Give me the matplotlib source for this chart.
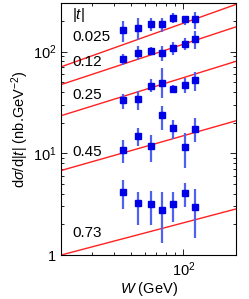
import numpy as np
import matplotlib
matplotlib.use('Agg')
import matplotlib.pyplot as plt
from matplotlib.ticker import LogLocator, NullFormatter

plt.rcParams['font.family'] = ['Liberation Sans', 'DejaVu Sans']
plt.rcParams['mathtext.fontset'] = 'custom'
plt.rcParams['mathtext.rm'] = 'Liberation Sans'
plt.rcParams['mathtext.it'] = 'Liberation Sans:italic'
plt.rcParams['mathtext.sf'] = 'Liberation Sans'

# |t| bins and W values (GeV)
t_labels = ['0.025', '0.12', '0.25', '0.45', '0.73']
W = [45.2, 55.3, 65.4, 75.3, 87.7, 102.7, 116.6]

# dsigma/d|t| values, with lower / upper ends of the error bars
xs_025 = [162, 168.5, 187.5, 187.5, 216, 210, 211]
lo_025 = [123.5, 131.3, 158.5, 156, 191.8, 183, 164.7]
hi_025 = [198.9, 214.8, 214.8, 214.8, 236.8, 226, 243.9]

xs_012 = [85.3, 97.1, 102.3, 97.1, 108.7, 119.9, 133.5]
lo_012 = [74.5, 83.4, 93.4, 80.2, 93.4, 104.7, 106.3]
hi_012 = [95.5, 112.8, 111.2, 112.8, 123.5, 134.4, 158.5]

xs_025b = [33.1, 34.4, 46.2, 49.2, 42.9, 46.5, 52.2]
lo_025b = [27.3, 26.8, 39.7, 35.0, 39.2, 39.2, 40.6]
hi_025b = [38.3, 40.6, 53.8, 68.5, 47.3, 55.1, 62.5]

xs_045 = [10.8, 14.9, 11.9, 23.9, 17.7, 11.5, 17.3]
lo_045 = [8.1, 11.9, 8.3, 17.1, 13.8, 7.1, 12.8]
hi_045 = [13.6, 17.7, 15.2, 29.4, 21.4, 15.8, 22.2]

xs_073 = [4.15, 3.27, 3.18, 2.77, 3.18, 4.05, 2.95]
lo_073 = [2.84, 1.98, 1.98, 1.32, 2.13, 2.95, 1.46]
hi_073 = [5.48, 4.2, 4.3, 4.2, 4.2, 5.16, 4.44]

# power-law fits: value at W = 20 GeV and exponent
fit_norm20 = [70.7, 47.3, 23.4, 6.77, 1.0]
fit_slope = [0.614, 0.568, 0.535, 0.489, 0.453]

# label heights (data units) for the |t| values
label_y = [140, 79.7, 37.7, 10.3, 1.65]

series = [(xs_025, lo_025, hi_025), (xs_012, lo_012, hi_012),
          (xs_025b, lo_025b, hi_025b), (xs_045, lo_045, hi_045),
          (xs_073, lo_073, hi_073)]

fig = plt.figure(figsize=(2.49, 2.99), dpi=100)
ax = fig.add_axes([0.245, 0.147, 0.703, 0.843])

Wfit = np.logspace(np.log10(20), np.log10(200), 100)
for i, (y, lo, hi) in enumerate(series):
    y = np.array(y)
    yerr = [y - np.array(lo), np.array(hi) - y]
    ax.errorbar(W, y, yerr=yerr, fmt='s', color='#0000e6', ecolor='#5060f0',
                elinewidth=1.6, capsize=0, markersize=4.5, zorder=3)
    ax.plot(Wfit, fit_norm20[i] * (Wfit / 20.0) ** fit_slope[i],
            color='#ff2020', lw=1.0, zorder=2)
    ax.text(23.1, label_y[i], t_labels[i], fontsize=11, va='center')

ax.text(23.1, 231, r'|$t$|', fontsize=11, va='center')

ax.set_xscale('log')
ax.set_yscale('log')
ax.set_xlim(20, 200)
ax.set_ylim(1, 300)
ax.xaxis.set_major_locator(LogLocator(base=10))
ax.xaxis.set_minor_locator(LogLocator(base=10, subs=np.arange(2, 10)))
ax.xaxis.set_minor_formatter(NullFormatter())
ax.yaxis.set_minor_formatter(NullFormatter())
ax.set_yticks([1, 10, 100])
ax.set_yticklabels(['1', r'10$^1$', r'10$^2$'])
ax.set_xticks([100])
ax.set_xticklabels([r'10$^2$'])
ax.tick_params(which='both', direction='in', top=True, right=True,
               labelsize=10.5, width=0.6)
ax.tick_params(which='major', length=4)
ax.tick_params(which='minor', length=2)
for s in ax.spines.values():
    s.set_linewidth(0.8)

ax.set_xlabel(r'$W$ (GeV)', fontsize=10.5, labelpad=1)
ax.set_ylabel(r'd$\sigma$/d|$t$| (nb.GeV$^{-2}$)', fontsize=10.5, labelpad=1)

fig.savefig('out.png', dpi=100)
